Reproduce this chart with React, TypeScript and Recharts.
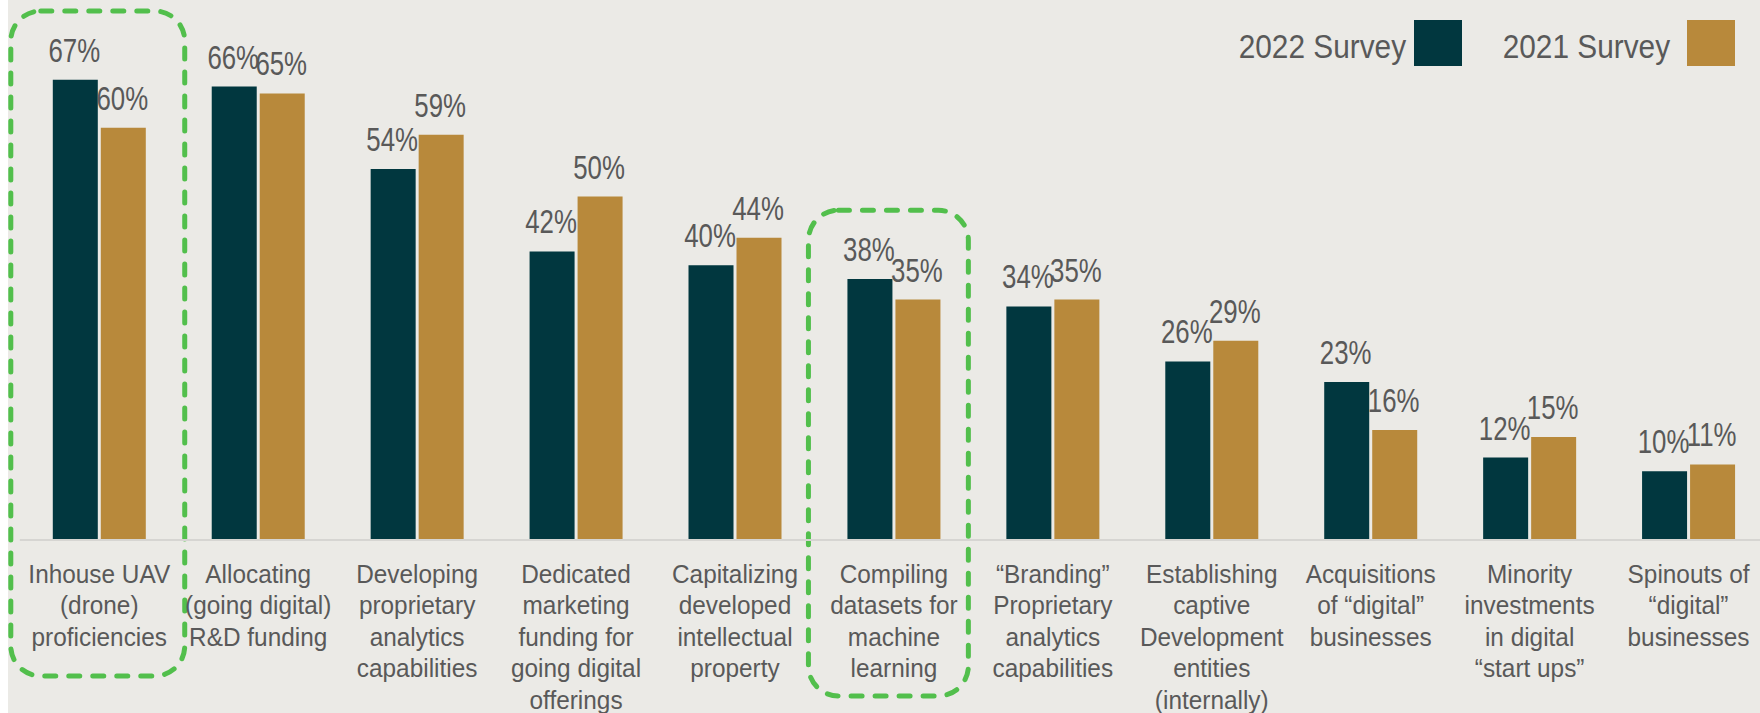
import { Bar, BarChart, LabelList, ReferenceArea, XAxis, YAxis } from "recharts";

const CATEGORIES = [
  "Inhouse UAV\n(drone)\nproficiencies",
  "Allocating\n(going digital)\nR&D funding",
  "Developing\nproprietary\nanalytics\ncapabilities",
  "Dedicated\nmarketing\nfunding for\ngoing digital\nofferings",
  "Capitalizing\ndeveloped\nintellectual\nproperty",
  "Compiling\ndatasets for\nmachine\nlearning",
  "\u201cBranding\u201d\nProprietary\nanalytics\ncapabilities",
  "Establishing\ncaptive\nDevelopment\nentities\n(internally)",
  "Acquisitions\nof \u201cdigital\u201d\nbusinesses",
  "Minority\ninvestments\nin digital\n\u201cstart ups\u201d",
  "Spinouts of\n\u201cdigital\u201d\nbusinesses",
];

const SURVEY_2022 = [67, 66, 54, 42, 40, 38, 34, 26, 23, 12, 10];
const SURVEY_2021 = [60, 65, 59, 50, 44, 35, 35, 29, 16, 15, 11];

const SERIES = [
  { key: "s2022", name: "2022 Survey", color: "#01373F", gap: 8 },
  { key: "s2021", name: "2021 Survey", color: "#B8893B", gap: 17 },
];

// dashed boxes around highlighted categories (y in percent units)
const HIGHLIGHTS = [
  { index: 0, top: 77, bottom: -19.8, padLeft: 9, padRight: 6 },
  { index: 5, top: 48, bottom: -22.7, padLeft: 6, padRight: -5 },
];

const data = CATEGORIES.map((name, i) => ({
  name,
  s2022: SURVEY_2022[i],
  s2021: SURVEY_2021[i],
}));

const FONT = '"Liberation Sans", Arial, sans-serif';
const TEXT = "#595959";
const BG = "#EBEAE6";
const GREEN = "#52BF4C";

const CategoryTick = (props: any) => {
  const { x, y, payload } = props;
  const lines = String(payload.value).split("\n");
  return (
    <g transform={`translate(${x},${y + 43}) scale(0.92,1)`}>
      <text x={0} y={0} textAnchor="middle" fill={TEXT} fontSize={26.5} fontFamily={FONT}>
        {lines.map((l, i) => (
          <tspan key={i} x={0} dy={i === 0 ? 0 : 31.5}>
            {l}
          </tspan>
        ))}
      </text>
    </g>
  );
};

const ValueLabel = (props: any) => {
  const { x, y, width, value } = props;
  return (
    <g transform={`translate(${x + width / 2 - 1},${y - 18}) scale(0.76,1)`}>
      <text x={0} y={0} textAnchor="middle" fill={TEXT} fontSize={34} fontFamily={FONT}>
        {`${value}%`}
      </text>
    </g>
  );
};

const makeBox = (padLeft: number, padRight: number) => (p: any) => (
  <rect
    x={p.x - padLeft}
    y={p.y}
    width={p.width + padLeft + padRight}
    height={p.height}
    rx={30}
    ry={30}
    fill="none"
    stroke={GREEN}
    strokeWidth={5}
    strokeDasharray="11 13"
    strokeLinecap="round"
  />
);

export default function App() {
  return (
    <div
      style={{
        position: "fixed",
        top: 0,
        left: 8,
        width: 1752,
        height: 713,
        background: BG,
        overflow: "hidden",
      }}
    >
      <BarChart
        width={1760}
        height={713}
        data={data}
        margin={{ top: 24.75, right: 0, bottom: 0, left: 11.8 }}
        barSize={45}
        barGap={3}
      >
        <XAxis
          dataKey="name"
          interval={0}
          height={173}
          tickLine={false}
          tickSize={0}
          tickMargin={0}
          axisLine={{ stroke: "#D6D5D2", strokeWidth: 2 }}
          tick={<CategoryTick />}
        />
        <YAxis hide domain={[0, 75]} />
        {SERIES.map((s) => (
          <Bar key={s.key} dataKey={s.key} name={s.name} fill={s.color} isAnimationActive={false}>
            <LabelList dataKey={s.key} content={<ValueLabel />} />
          </Bar>
        ))}
        {HIGHLIGHTS.map((h) => (
          <ReferenceArea
            key={h.index}
            x1={CATEGORIES[h.index]}
            x2={CATEGORIES[h.index]}
            y1={h.bottom}
            y2={h.top}
            ifOverflow="visible"
            shape={makeBox(h.padLeft, h.padRight)}
          />
        ))}
      </BarChart>
      {SERIES.map((s, i) => (
        <div
          key={s.key}
          style={{
            position: "absolute",
            top: 20,
            right: 25 + (SERIES.length - 1 - i) * 273,
            height: 46,
            display: "flex",
            alignItems: "center",
            fontFamily: FONT,
            fontSize: 33.5,
            color: TEXT,
          }}
        >
          <span
            style={{
              marginRight: s.gap,
              whiteSpace: "nowrap",
              transform: "scaleX(0.89)",
              transformOrigin: "right center",
              position: "relative",
              top: 4,
            }}
          >
            {s.name}
          </span>
          <span style={{ width: 48, height: 46, background: s.color, display: "inline-block" }} />
        </div>
      ))}
    </div>
  );
}
